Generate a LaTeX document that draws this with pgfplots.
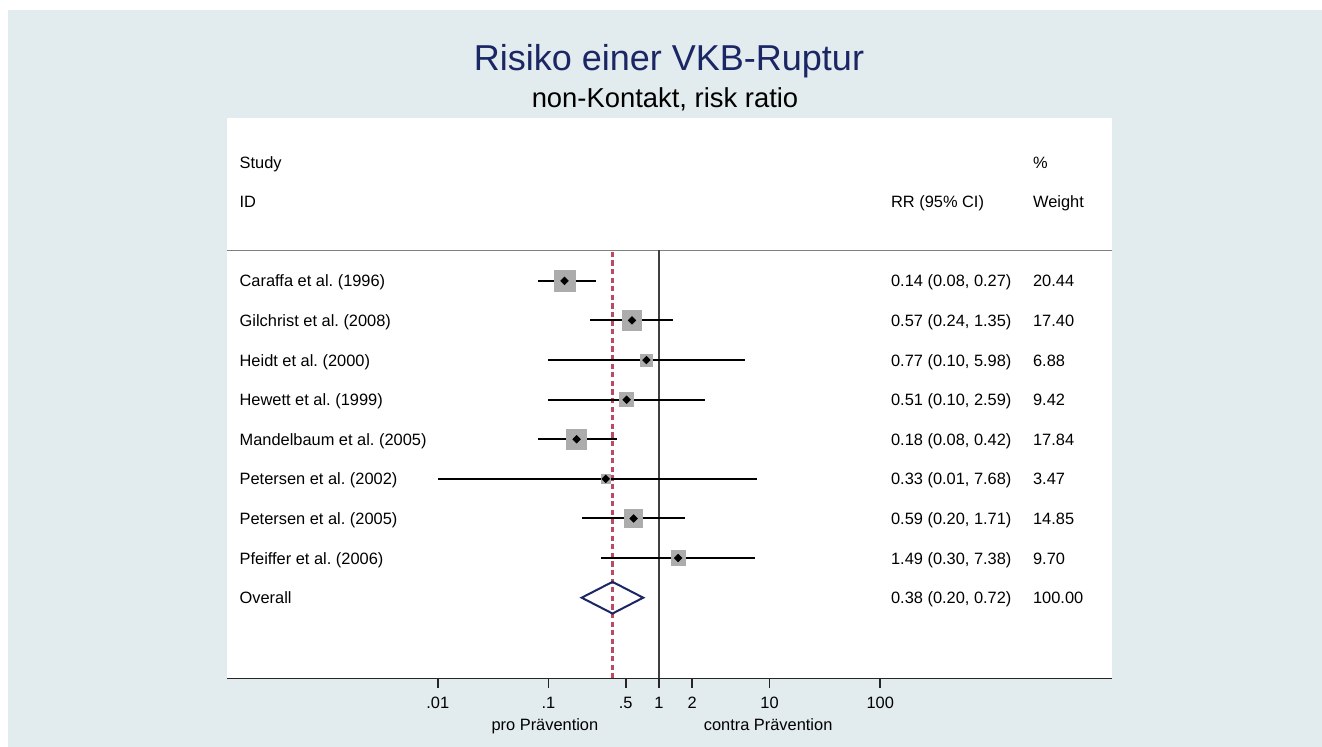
\documentclass[border=0pt]{standalone}
\usepackage{fontspec}
\setmainfont{Liberation Sans}
\usepackage{pgfplots}
\pgfplotsset{compat=1.18}
\usepackage{pgfplotstable}
\definecolor{bg}{RGB}{226,235,237}
\definecolor{navy}{RGB}{27,38,100}
\definecolor{boxgray}{RGB}{172,172,172}
\definecolor{refred}{RGB}{185,75,100}

\pgfplotstableread{
y rr lo hi w
9 0.14 0.08 0.27 20.44
8 0.57 0.24 1.35 17.40
7 0.77 0.10 5.98 6.88
6 0.51 0.10 2.59 9.42
5 0.18 0.08 0.42 17.84
4 0.33 0.01 7.68 3.47
3 0.59 0.20 1.71 14.85
2 1.49 0.30 7.38 9.70
}\studies

\newcommand{\rowfont}{\fontsize{8.2}{10}\selectfont}
\tikzset{rt/.style={anchor=base west, yshift=-3pt, inner sep=0pt, font=\rowfont}}
\begin{document}
\frenchspacing
\begin{tikzpicture}[x=1pt,y=1pt]
\useasboundingbox (0,0) rectangle (661,373.5);
\fill[white] (0,0) rectangle (661,373.5);
\fill[bg] (4,0) rectangle (661,368.5);
\node[font=\fontsize{18}{20}\selectfont, text=navy] at (334.5,343) {Risiko einer VKB-Ruptur};
\node[font=\fontsize{13.7}{16}\selectfont] at (332.5,324) {non-Kontakt, risk ratio};
\begin{axis}[
  at={(113.5pt,34.25pt)}, anchor=south west,
  width=442.5pt, height=280pt, scale only axis,
  xmode=log, xmin=1.242e-4, xmax=1.247e4,
  ymin=-1.04, ymax=13.1,
  axis background/.style={fill=white},
  axis line style={draw=none},
  ytick=\empty,
  xtick={0.01,0.1,0.5,1,2,10,100},
  xticklabels={.01,.1,.5,1,2,10,100},
  xminorticks=false,
  xtick pos=left,
  xtick align=outside, major tick length=4.7pt,
  xtick style={draw=black!85, line width=0.8pt},
  xticklabel style={font=\rowfont, yshift=-1pt},
  /pgf/number format/assume math mode=true,
  clip=false,
]
% header
\node[rt] at (axis cs:1.603e-4,12) {Study};
\node[rt] at (axis cs:1.603e-4,11) {ID};
\node[rt] at (axis cs:124.4,11) {RR (95\% CI)};
\node[rt] at (axis cs:2393,12) {\%};
\node[rt] at (axis cs:2393,11) {Weight};
\addplot[gray, line width=0.6pt] coordinates {(1.242e-4,9.77) (1.247e4,9.77)};
% bottom axis line
\addplot[black!85, line width=0.75pt] coordinates {(1.242e-4,-1.04) (1.247e4,-1.04)};
% reference lines
\addplot[black!75, line width=1pt] coordinates {(1,-1.04) (1,9.77)};
\addplot[refred, line width=1.1pt, dash pattern=on 2.6pt off 1.7pt] coordinates {(0.38,-1.04) (0.38,9.77)};
% weight boxes
\addplot[scatter, only marks, mark=square*,
  mark options={draw=boxgray, fill=boxgray},
  scatter/use mapped color={draw=boxgray, fill=boxgray},
  visualization depends on={1.163*sqrt(\thisrow{w}) \as \msz},
  scatter/@pre marker code/.append style={/tikz/mark size=\msz pt}]
  table[x=rr, y=y] {\studies};
% confidence intervals
\addplot[draw=none, mark=none,
  error bars/.cd, x dir=both, x explicit, error mark=none,
  error bar style={line width=1pt, black}]
  table[x=rr, y=y, x error plus expr=\thisrow{hi}-\thisrow{rr}, x error minus expr=\thisrow{rr}-\thisrow{lo}] {\studies};
% point estimates
\addplot[only marks, mark=square*, mark size=1.3pt, mark options={rotate=45}, black] table[x=rr, y=y] {\studies};
% overall
\addplot[navy, line width=1pt, line join=miter] coordinates {(0.20,1) (0.38,1.40) (0.72,1) (0.38,0.60)} -- cycle;
% row texts
\node[rt] at (axis cs:1.603e-4,9) {Caraffa et al. (1996)};
\node[rt] at (axis cs:1.603e-4,8) {Gilchrist et al. (2008)};
\node[rt] at (axis cs:1.603e-4,7) {Heidt et al. (2000)};
\node[rt] at (axis cs:1.603e-4,6) {Hewett et al. (1999)};
\node[rt] at (axis cs:1.603e-4,5) {Mandelbaum et al. (2005)};
\node[rt] at (axis cs:1.603e-4,4) {Petersen et al. (2002)};
\node[rt] at (axis cs:1.603e-4,3) {Petersen et al. (2005)};
\node[rt] at (axis cs:1.603e-4,2) {Pfeiffer et al. (2006)};
\node[rt] at (axis cs:1.603e-4,1) {Overall};
\node[rt] at (axis cs:124.4,9) {0.14 (0.08, 0.27)};
\node[rt] at (axis cs:124.4,8) {0.57 (0.24, 1.35)};
\node[rt] at (axis cs:124.4,7) {0.77 (0.10, 5.98)};
\node[rt] at (axis cs:124.4,6) {0.51 (0.10, 2.59)};
\node[rt] at (axis cs:124.4,5) {0.18 (0.08, 0.42)};
\node[rt] at (axis cs:124.4,4) {0.33 (0.01, 7.68)};
\node[rt] at (axis cs:124.4,3) {0.59 (0.20, 1.71)};
\node[rt] at (axis cs:124.4,2) {1.49 (0.30, 7.38)};
\node[rt] at (axis cs:124.4,1) {0.38 (0.20, 0.72)};
\node[rt] at (axis cs:2393,9) {20.44};
\node[rt] at (axis cs:2393,8) {17.40};
\node[rt] at (axis cs:2393,7) {6.88};
\node[rt] at (axis cs:2393,6) {9.42};
\node[rt] at (axis cs:2393,5) {17.84};
\node[rt] at (axis cs:2393,4) {3.47};
\node[rt] at (axis cs:2393,3) {14.85};
\node[rt] at (axis cs:2393,2) {9.70};
\node[rt] at (axis cs:2393,1) {100.00};
% direction labels
\node[anchor=base, font=\rowfont, inner sep=0pt] at (axis cs:0.093,-2.35) {pro Prävention};
\node[anchor=base, font=\rowfont, inner sep=0pt] at (axis cs:9.7,-2.35) {contra Prävention};
\end{axis}
\end{tikzpicture}
\end{document}
